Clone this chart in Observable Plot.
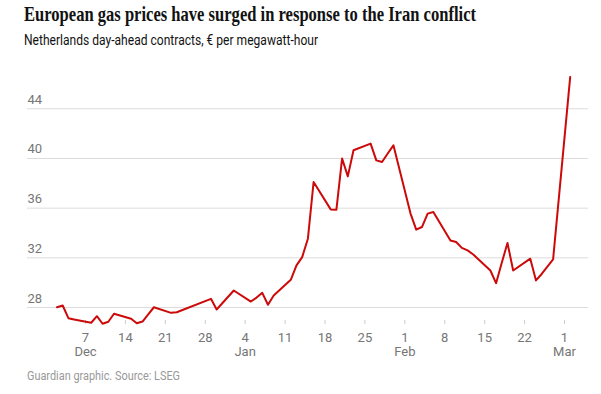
<!DOCTYPE html>
<html>
<head>
<meta charset="utf-8">
<script src="https://cdn.jsdelivr.net/npm/d3@7"></script>
<script src="https://cdn.jsdelivr.net/npm/@observablehq/plot@0.6"></script>
<style>
  html, body { margin: 0; padding: 0; background: #fff; }
  #wrap { position: relative; width: 601px; height: 394px; overflow: hidden; }
  .fit { display: inline-block; transform-origin: 0 0; }
  #title { position: absolute; left: 24px; top: 0; line-height: 28px; font-family: "Liberation Serif", serif; font-weight: 700; font-size: 21px; color: #121212; white-space: nowrap; }
  #subtitle { position: absolute; left: 24px; top: 30px; line-height: 20px; font-family: Roboto, sans-serif; font-size: 14px; color: #121212; white-space: nowrap; }
  #chart { position: absolute; left: 0; top: 55px; }
  #source { position: absolute; left: 27px; top: 368px; line-height: 16px; font-family: Roboto, sans-serif; font-size: 12px; color: #999; white-space: nowrap; }
</style>
</head>
<body>
<div id="wrap">
  <div id="title"><span class="fit" data-w="452">European gas prices have surged in response to the Iran conflict</span></div>
  <div id="subtitle"><span class="fit" data-w="294">Netherlands day-ahead contracts, € per megawatt-hour</span></div>
  <div id="chart"></div>
  <div id="source"><span class="fit" data-w="153">Guardian graphic. Source: LSEG</span></div>
</div>
<script>
const dates = [
  "2025-12-02","2025-12-03","2025-12-04","2025-12-05","2025-12-08","2025-12-09","2025-12-10","2025-12-11","2025-12-12",
  "2025-12-15","2025-12-16","2025-12-17","2025-12-18","2025-12-19","2025-12-22","2025-12-23","2025-12-29","2025-12-30",
  "2026-01-02","2026-01-05","2026-01-06","2026-01-07","2026-01-08","2026-01-09","2026-01-12","2026-01-13","2026-01-14",
  "2026-01-15","2026-01-16","2026-01-19","2026-01-20","2026-01-21","2026-01-22","2026-01-23","2026-01-26","2026-01-27",
  "2026-01-28","2026-01-29","2026-01-30","2026-02-02","2026-02-03","2026-02-04","2026-02-05","2026-02-06","2026-02-09",
  "2026-02-10","2026-02-11","2026-02-12","2026-02-13","2026-02-16","2026-02-17","2026-02-18","2026-02-19","2026-02-20",
  "2026-02-23","2026-02-24","2026-02-25","2026-02-26","2026-02-27","2026-03-02"
];
const prices = [
  28.02, 28.16, 27.14, 27.04, 26.77, 27.30, 26.69, 26.85, 27.50,
  27.10, 26.73, 26.87, 27.45, 28.02, 27.57, 27.62, 28.70, 27.84,
  29.37, 28.48, 28.80, 29.18, 28.22, 28.97, 30.23, 31.39, 32.06,
  33.54, 38.10, 35.90, 35.88, 40.00, 38.56, 40.66, 41.20, 39.85,
  39.72, 40.40, 41.06, 35.56, 34.27, 34.48, 35.56, 35.69, 33.40,
  33.27, 32.80, 32.60, 32.27, 30.98, 29.96, 31.60, 33.19, 30.98,
  31.93, 30.18, 30.70, 31.30, 31.87, 46.57
];
const yTicks = [28, 32, 36, 40, 44];
const xTickDates = ["2025-12-07","2025-12-14","2025-12-21","2025-12-28","2026-01-04","2026-01-11","2026-01-18","2026-01-25","2026-02-01","2026-02-08","2026-02-15","2026-02-22","2026-03-01"];
const xTickLabels = ["7\nDec","14","21","28","4\nJan","11","18","25","1\nFeb","8","15","22","1\nMar"];

const data = dates.map((d, i) => ({date: new Date(d), price: prices[i]}));
const xTicks = xTickDates.map(d => new Date(d));
const labelMap = new Map(xTicks.map((d, i) => [+d, xTickLabels[i]]));

const chart = Plot.plot({
  width: 601,
  height: 307,
  marginLeft: 27,
  marginRight: 13,
  marginTop: 0,
  marginBottom: 42,
  style: {fontFamily: "Roboto, sans-serif", fontSize: "13px", background: "transparent"},
  x: {type: "utc", domain: [xTicks[0], xTicks[xTicks.length - 1]], range: [85, 564]},
  y: {domain: [28, 44], range: [252, 53.3]},
  marks: [
    Plot.gridY(yTicks, {stroke: "#dcdcdc", strokeOpacity: 1}),
    Plot.axisY(yTicks, {tickSize: 0, tickPadding: 0, textAnchor: "start", dx: 0, dy: -5, lineAnchor: "bottom", fill: "#767676", label: null}),
    Plot.axisX(xTicks, {tickSize: 4, tickPadding: 8, stroke: "#cccccc", fill: "#767676", label: null, lineHeight: 1.05, tickFormat: d => labelMap.get(+d)}),
    Plot.line(data, {x: "date", y: "price", stroke: "#cc0a0a", strokeWidth: 2})
  ]
});
document.getElementById("chart").appendChild(chart);

document.querySelectorAll(".fit").forEach(el => {
  const w = el.getBoundingClientRect().width;
  const target = +el.dataset.w;
  if (w > 0) el.style.transform = `scaleX(${target / w})`;
});
</script>
</body>
</html>
